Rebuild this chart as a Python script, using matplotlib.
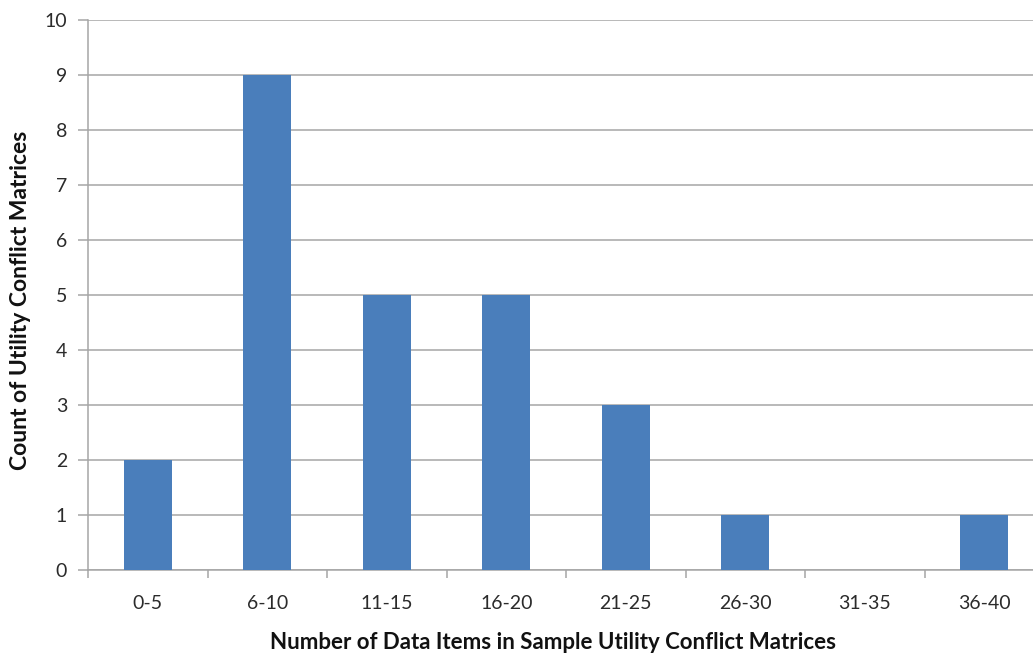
import matplotlib
matplotlib.use("Agg")
import matplotlib.pyplot as plt
import numpy as np

plt.rcParams['font.family'] = ['Lato', 'DejaVu Sans']

categories = ["0-5", "6-10", "11-15", "16-20", "21-25", "26-30", "31-35", "36-40"]
counts = [2, 9, 5, 5, 3, 1, 0, 1]
y_ticks = list(range(0, 11))

W, H = 1033, 656
fig = plt.figure(figsize=(W / 100, H / 100), dpi=100)
fig.patch.set_facecolor("white")

left_px, right_px, top_px, bottom_px = 88, 1044, 20, 570
ax = fig.add_axes([left_px / W, (H - bottom_px) / H,
                   (right_px - left_px) / W, (bottom_px - top_px) / H])
ax.set_facecolor("white")

x = np.arange(len(categories))
ax.bar(x, counts, width=0.4, color="#4A7EBB", zorder=3)

ax.set_xlim(-0.5, len(categories) - 0.5)
ax.set_ylim(0, 10)
ax.set_yticks(y_ticks)
ax.yaxis.grid(True, color="#A6A6A6", linewidth=1.1, zorder=0)

for side in ("top", "right"):
    ax.spines[side].set_visible(False)
for side in ("left", "bottom"):
    ax.spines[side].set_color("#A6A6A6")
    ax.spines[side].set_linewidth(1.1)

# category labels at bar centres, tick marks at category boundaries
ax.set_xticks(x)
ax.set_xticklabels(categories)
ax.set_xticks(np.arange(-0.5, len(categories), 1.0), minor=True)
ax.tick_params(axis="x", which="major", length=0, pad=18, labelsize=14, labelcolor="#2b2b2b")
ax.tick_params(axis="x", which="minor", length=6, width=1.1, color="#A6A6A6")
ax.tick_params(axis="y", length=7, width=1.1, color="#A6A6A6", pad=8,
               labelsize=14, labelcolor="#2b2b2b")

fig.text(21 / W, 1 - 300 / H, "Count of Utility Conflict Matrices", rotation=90,
         ha="center", va="center", fontsize=16.5, fontweight="bold", color="#111111")
fig.text(553 / W, 3 / H, "Number of Data Items in Sample Utility Conflict Matrices",
         ha="center", va="bottom", fontsize=16, fontweight="bold", color="#111111")

fig.savefig("out.png", dpi=100)
